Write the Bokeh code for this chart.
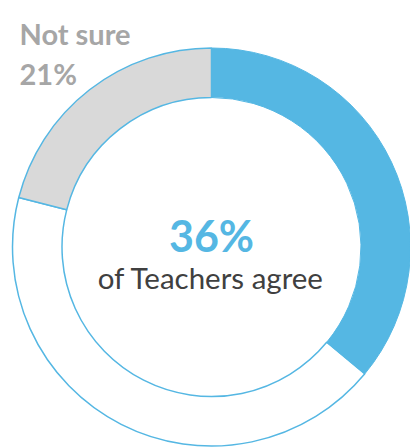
import math
from bokeh.plotting import figure
from bokeh.models import Range1d
from bokeh.core.properties import value
from bokeh.embed import file_html
from bokeh.resources import INLINE

# Data
categories = ["Agree", "Not sure", "Other"]
percents = [36, 21, 43]
colors = ["#55B7E3", "#D9D9D9", "#FFFFFF"]
center_value = "36%"
center_label = "of Teachers agree"
side_title = "Not sure"
side_value = "21%"

BLUE = "#55B7E3"
W, H = 410, 447

p = figure(width=W, height=H, output_backend="svg", toolbar_location=None,
           x_range=Range1d(0, W), y_range=Range1d(0, H), min_border=0)
p.axis.visible = False
p.grid.visible = False
p.outline_line_color = None
p.background_fill_color = "white"
p.border_fill_color = "white"

def Y(sy):
    return H - sy

cx, cy = 211, Y(246.5)
r_out, r_in = 199, 149.5

a0 = math.pi / 2
agree_end = a0 - percents[0] / 100 * 2 * math.pi
notsure_end = a0 + percents[1] / 100 * 2 * math.pi

p.annular_wedge(x=cx, y=cy, inner_radius=r_in, outer_radius=r_out,
                inner_radius_units="screen", outer_radius_units="screen",
                start_angle=notsure_end, end_angle=agree_end + 2 * math.pi,
                fill_color=colors[2], line_color=BLUE, line_width=1.5)
p.annular_wedge(x=cx, y=cy, inner_radius=r_in, outer_radius=r_out,
                inner_radius_units="screen", outer_radius_units="screen",
                start_angle=a0, end_angle=notsure_end,
                fill_color=colors[1], line_color=BLUE, line_width=1.5)
p.annular_wedge(x=cx, y=cy, inner_radius=r_in, outer_radius=r_out,
                inner_radius_units="screen", outer_radius_units="screen",
                start_angle=agree_end, end_angle=a0,
                fill_color=colors[0], line_color=BLUE, line_width=1)

p.text(x=[19], y=[Y(33)], text=[side_title], text_font=value("Lato"),
       text_font_style="bold", text_font_size="29px", text_color="#A6A6A6",
       text_baseline="alphabetic", text_align="left")
p.text(x=[19], y=[Y(73)], text=[side_value], text_font=value("Lato"),
       text_font_style="bold", text_font_size="29px", text_color="#A6A6A6",
       text_baseline="alphabetic", text_align="left")
p.text(x=[211], y=[Y(235)], text=[center_value], text_font=value("Lato"),
       text_font_style="bold", text_font_size="43px", text_color=BLUE,
       text_baseline="alphabetic", text_align="center")
p.text(x=[210.5], y=[Y(277)], text=[center_label], text_font=value("Lato"),
       text_font_size="29.5px", text_color="#404040",
       text_baseline="alphabetic", text_align="center")

open("out.html", "w").write(file_html(p, INLINE))
